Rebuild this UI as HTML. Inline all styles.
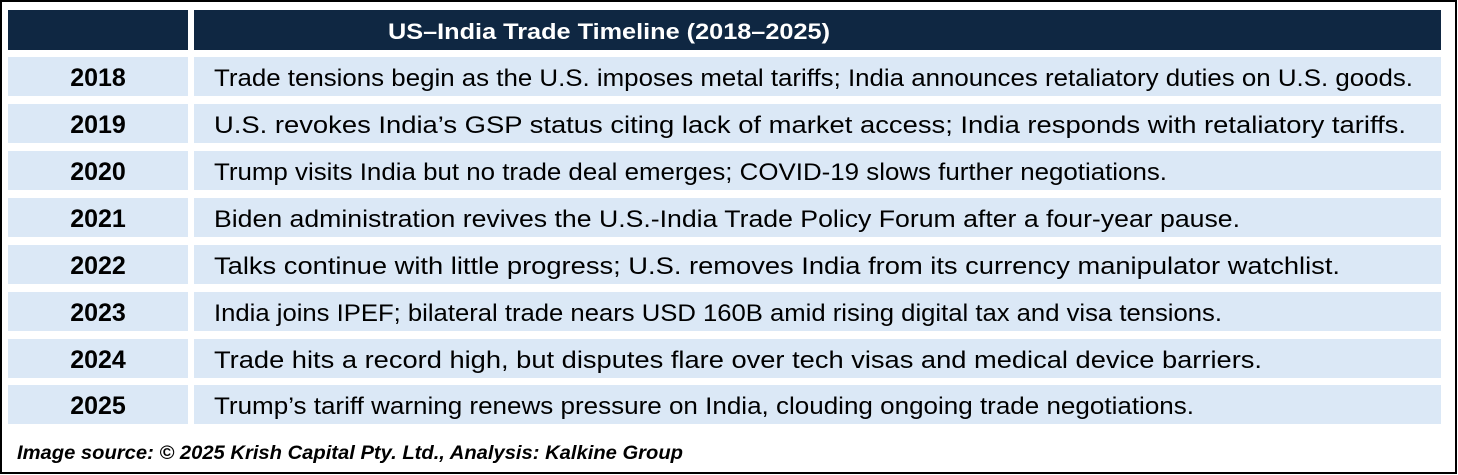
<!DOCTYPE html>
<html><head><meta charset="utf-8"><style>
html,body{margin:0;padding:0;background:#fff;}
svg{display:block}
text{font-family:"Liberation Sans",sans-serif;}
</style></head><body>
<svg width="1458" height="475" viewBox="0 0 1458 475">
<rect x="1" y="1" width="1455" height="472" fill="#fff" stroke="#000" stroke-width="2"/>
<rect x="8" y="10" width="180" height="40" fill="#0f2742"/>
<rect x="194" y="10" width="1247" height="40" fill="#0f2742"/>
<text x="388" y="39" font-size="22" font-weight="bold" fill="#fff" textLength="442" lengthAdjust="spacingAndGlyphs">US–India Trade Timeline (2018–2025)</text>
<g fill="#dbe8f6">
<rect x="8" y="57" width="180" height="39"/><rect x="194" y="57" width="1247" height="39"/>
<rect x="8" y="104" width="180" height="39"/><rect x="194" y="104" width="1247" height="39"/>
<rect x="8" y="151" width="180" height="39"/><rect x="194" y="151" width="1247" height="39"/>
<rect x="8" y="198" width="180" height="39"/><rect x="194" y="198" width="1247" height="39"/>
<rect x="8" y="245" width="180" height="39"/><rect x="194" y="245" width="1247" height="39"/>
<rect x="8" y="292" width="180" height="39"/><rect x="194" y="292" width="1247" height="39"/>
<rect x="8" y="339" width="180" height="39"/><rect x="194" y="339" width="1247" height="39"/>
<rect x="8" y="385" width="180" height="39"/><rect x="194" y="385" width="1247" height="39"/>
</g>
<g font-size="25" font-weight="bold" fill="#000" text-anchor="middle">
<text x="98" y="86">2018</text><text x="98" y="133">2019</text><text x="98" y="180">2020</text><text x="98" y="227">2021</text>
<text x="98" y="274">2022</text><text x="98" y="321">2023</text><text x="98" y="368">2024</text><text x="98" y="414">2025</text>
</g>
<g font-size="24" fill="#000">
<text x="214" y="86" textLength="1199" lengthAdjust="spacingAndGlyphs">Trade tensions begin as the U.S. imposes metal tariffs; India announces retaliatory duties on U.S. goods.</text>
<text x="214" y="133" textLength="1192" lengthAdjust="spacingAndGlyphs">U.S. revokes India’s GSP status citing lack of market access; India responds with retaliatory tariffs.</text>
<text x="214" y="180" textLength="953" lengthAdjust="spacingAndGlyphs">Trump visits India but no trade deal emerges; COVID-19 slows further negotiations.</text>
<text x="214" y="227" textLength="1026" lengthAdjust="spacingAndGlyphs">Biden administration revives the U.S.-India Trade Policy Forum after a four-year pause.</text>
<text x="214" y="274" textLength="1126" lengthAdjust="spacingAndGlyphs">Talks continue with little progress; U.S. removes India from its currency manipulator watchlist.</text>
<text x="214" y="321" textLength="1008" lengthAdjust="spacingAndGlyphs">India joins IPEF; bilateral trade nears USD 160B amid rising digital tax and visa tensions.</text>
<text x="214" y="368" textLength="1048" lengthAdjust="spacingAndGlyphs">Trade hits a record high, but disputes flare over tech visas and medical device barriers.</text>
<text x="214" y="414" textLength="980" lengthAdjust="spacingAndGlyphs">Trump’s tariff warning renews pressure on India, clouding ongoing trade negotiations.</text>
</g>
<text x="17" y="459" font-size="19" font-weight="bold" font-style="italic" fill="#000" textLength="666" lengthAdjust="spacingAndGlyphs">Image source: © 2025 Krish Capital Pty. Ltd., Analysis: Kalkine Group</text>
</svg>
</body></html>
